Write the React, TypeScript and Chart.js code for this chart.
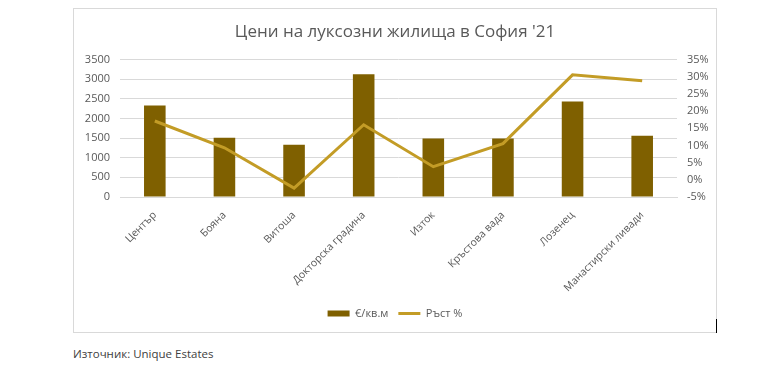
import React, { useEffect, useRef } from "react";
import { Chart, registerables } from "chart.js";

Chart.register(...registerables);

const categories = [
  "Център",
  "Бояна",
  "Витоша",
  "Докторска градина",
  "Изток",
  "Кръстова вада",
  "Лозенец",
  "Манастирски ливади",
];
const pricePerSqm = [2330, 1510, 1330, 3120, 1490, 1490, 2430, 1560];
const growthPct = [17.1, 9.3, -2.4, 16.0, 3.8, 10.5, 30.5, 28.8];
const seriesNames = ["€/кв.м", "Ръст %"];
const titleText = "Цени на луксозни жилища в София '21";
const sourceText = "Източник: Unique Estates";

const FONT = "'Open Sans', 'Noto Sans', sans-serif";
const BAR_COLOR = "#7F6000";
const LINE_COLOR = "#C39C26";
const TEXT_GRAY = "#595959";

export default function App() {
  const canvasRef = useRef<HTMLCanvasElement | null>(null);

  useEffect(() => {
    if (!canvasRef.current) return;
    const chart = new Chart(canvasRef.current, {
      type: "bar",
      data: {
        labels: categories,
        datasets: [
          {
            type: "bar",
            label: seriesNames[0],
            data: pricePerSqm,
            backgroundColor: BAR_COLOR,
            borderWidth: 0,
            yAxisID: "y",
            order: 1,
            categoryPercentage: 1,
            barPercentage: 0.31,
            pointStyle: "rect",
          } as any,
          {
            type: "line",
            label: seriesNames[1],
            data: growthPct,
            borderColor: LINE_COLOR,
            backgroundColor: LINE_COLOR,
            borderWidth: 3,
            pointRadius: 0,
            tension: 0,
            yAxisID: "y1",
            order: 0,
            pointStyle: "line",
          } as any,
        ],
      },
      options: {
        animation: false,
        responsive: false,
        maintainAspectRatio: false,
        layout: { padding: { top: 0, bottom: 3, left: 0, right: 0 } },
        plugins: {
          title: {
            display: true,
            text: titleText,
            color: TEXT_GRAY,
            font: { family: FONT, size: 17, weight: "normal" },
            padding: { top: 13, bottom: 17 },
          },
          legend: {
            display: true,
            position: "bottom",
            labels: {
              color: TEXT_GRAY,
              font: { family: FONT, size: 11 },
              usePointStyle: true,
              pointStyleWidth: 22,
              boxHeight: 6,
              padding: 10,
              sort: (a: any, b: any) => a.datasetIndex - b.datasetIndex,
            },
          },
          tooltip: { enabled: false },
        },
        scales: {
          x: {
            grid: { display: false },
            border: { display: true, color: "#D9D9D9" },
            ticks: {
              color: TEXT_GRAY,
              font: { family: FONT, size: 10.5 },
              minRotation: 45,
              maxRotation: 45,
              autoSkip: false,
              padding: 4,
            },
            afterFit: (s: any) => {
              s.height = 101;
            },
          },
          y: {
            position: "left",
            min: 0,
            max: 3500,
            grid: { color: "#D9D9D9", drawTicks: false },
            border: { display: false },
            ticks: {
              stepSize: 500,
              color: TEXT_GRAY,
              font: { family: FONT, size: 11 },
              padding: 10,
              callback: (v: any) => String(v),
            },
            afterFit: (s: any) => {
              s.width = 46;
            },
          },
          y1: {
            position: "right",
            min: -5,
            max: 35,
            grid: { display: false, drawTicks: false },
            border: { display: false },
            ticks: {
              stepSize: 5,
              color: TEXT_GRAY,
              font: { family: FONT, size: 11 },
              padding: 10,
              callback: (v: any) => `${v}%`,
            },
            afterFit: (s: any) => {
              s.width = 39;
            },
          },
        },
      },
    });
    return () => chart.destroy();
  }, []);

  return (
    <div
      style={{
        position: "fixed",
        left: 0,
        top: 0,
        width: 771,
        height: 365,
        background: "#ffffff",
        overflow: "hidden",
      }}
    >
      <div
        style={{
          position: "absolute",
          left: 73,
          top: 8,
          width: 642,
          height: 323,
          border: "1px solid #D9D9D9",
          background: "#fff",
        }}
      >
        <canvas ref={canvasRef} width={642} height={323} style={{ display: "block" }} />
      </div>
      <div
        style={{
          position: "absolute",
          left: 716,
          top: 319,
          width: 1,
          height: 14,
          background: "#000",
        }}
      />
      <div
        style={{
          position: "absolute",
          left: 73,
          top: 346,
          fontFamily: FONT,
          fontSize: 11.5,
          color: "#404040",
          whiteSpace: "nowrap",
        }}
      >
        {sourceText}
      </div>
    </div>
  );
}
